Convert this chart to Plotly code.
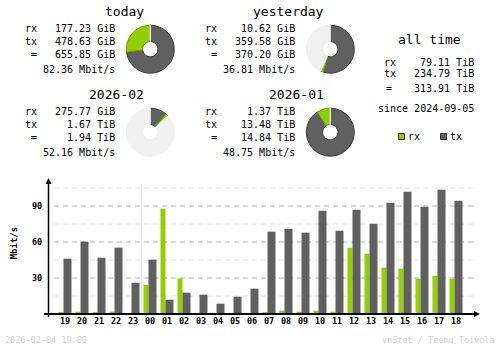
import plotly.graph_objects as go

W, H = 500, 348
MONO = "DejaVu Sans Mono"
RX_C = "#92CF00"
TX_C = "#606060"
RX_EDGE = "#6c9a00"
TX_EDGE = "#3a3a3a"
PIE_BG = "#F0F0F0"

# ---- hourly data (Mbit/s) ----
hours = ["19", "20", "21", "22", "23", "00", "01", "02", "03", "04", "05", "06",
         "07", "08", "09", "10", "11", "12", "13", "14", "15", "16", "17", "18"]
rx_mbit = [1.1, 1.9, 1.1, 1.9, 0, 24.4, 87.8, 29.7, 0, 0, 0, 0,
           1.1, 2.8, 1.9, 2.8, 1.9, 55.3, 50.3, 38.6, 37.8, 29.4, 31.9, 29.4]
tx_mbit = [46.1, 60.3, 46.9, 55.3, 26.1, 45.3, 11.9, 17.8, 16.1, 8.6, 14.4, 21.1,
           68.6, 71.1, 67.8, 86.1, 69.4, 86.9, 75.3, 92.8, 101.9, 89.4, 103.6, 94.4]
y_major = [30, 60, 90]
y_minor = [15, 45, 75, 105]

# ---- summary data ----
day_titles = ["today", "yesterday"]
day_rx_gib = [177.23, 10.62]
day_tx_gib = [478.63, 359.58]
day_total_gib = [655.85, 370.20]
day_rate = [82.36, 36.81]

month_titles = ["2026-02", "2026-01"]
month_rx_tib = [275.77 / 1024, 1.37]
month_tx_tib = [1.67, 13.48]
month_total_tib = [1.94, 14.84]
month_rx_txt = ["275.77 GiB", "1.37 TiB"]
month_tx_txt = ["1.67 TiB", "13.48 TiB"]
month_total_txt = ["1.94 TiB", "14.84 TiB"]
month_rate = [52.16, 48.75]

all_rx, all_tx, all_total = 79.11, 234.79, 313.91
since = "2024-09-05"
stamp = "2026-02-04 19:00"

fig = go.Figure()


def px(x):
    return x / W


def py(y):
    return 1 - y / H


def txt(x, y, s, size=10, xanchor="left", color="#000000", weight="normal", angle=0):
    fig.add_annotation(x=px(x), y=py(y), xref="paper", yref="paper", text=s,
                       showarrow=False, xanchor=xanchor, yanchor="middle",
                       borderpad=0, borderwidth=0, textangle=angle,
                       font=dict(family=MONO, size=size, color=color, weight=weight))


def pie(cx, cy, r, tx, rx, rest):
    fig.add_trace(go.Pie(values=[tx, rx, rest], sort=False, direction="clockwise",
                         rotation=0, hole=0.32, textinfo="none", hoverinfo="none",
                         showlegend=False,
                         marker=dict(colors=[TX_C, RX_C, PIE_BG],
                                     line=dict(color=[TX_EDGE, RX_EDGE, PIE_BG], width=1)),
                         domain=dict(x=[px(cx - r), px(cx + r)], y=[py(cy + r), py(cy - r)])))


def block(ox, oy, title, rx_s, tx_s, tot_s, rate_s):
    txt(144 + ox, 11 + oy, title, size=13, xanchor="right")
    rows = [28.8, 41.2, 54.5, 69.2]
    txt(25 + ox, rows[0] + oy, "rx")
    txt(25 + ox, rows[1] + oy, "tx")
    txt(34 + ox, rows[2] + oy, "=", xanchor="center")
    for s, yy in zip([rx_s, tx_s, tot_s, rate_s], rows):
        txt(115 + ox, yy + oy, s, xanchor="right")


# day blocks
day_max = max(day_total_gib)
for i in range(2):
    ox = 180 * i
    block(ox, 0, day_titles[i], f"{day_rx_gib[i]:.2f} GiB", f"{day_tx_gib[i]:.2f} GiB",
          f"{day_total_gib[i]:.2f} GiB", f"{day_rate[i]:.2f} Mbit/s")
    pie(150.3 + ox, 49.2, 24, day_tx_gib[i], day_rx_gib[i], day_max - day_total_gib[i])

# month blocks
month_max = max(month_total_tib)
for i in range(2):
    ox = 180 * i
    block(ox, 83, month_titles[i], month_rx_txt[i], month_tx_txt[i],
          month_total_txt[i], f"{month_rate[i]:.2f} Mbit/s")
    pie(150.3 + ox, 132.2, 24, month_tx_tib[i], month_rx_tib[i], month_max - month_total_tib[i])

# all time
txt(429, 39.5, "all time", size=13, xanchor="center")
txt(384, 62.2, "rx")
txt(384, 73.8, "tx")
txt(389, 88, "=", xanchor="center")
txt(474, 62.2, f"{all_rx:.2f} TiB", xanchor="right")
txt(474, 73.8, f"{all_tx:.2f} TiB", xanchor="right")
txt(474, 88, f"{all_total:.2f} TiB", xanchor="right")
txt(474, 108.2, f"since {since}", xanchor="right")

shapes = []
# legend squares
shapes.append(dict(type="rect", xref="paper", yref="paper", x0=px(398.5), x1=px(404.5),
                   y0=py(139.5), y1=py(133.5), fillcolor=RX_C, line=dict(color="#303030", width=1)))
shapes.append(dict(type="rect", xref="paper", yref="paper", x0=px(440.5), x1=px(446.5),
                   y0=py(139.5), y1=py(133.5), fillcolor=TX_C, line=dict(color="#303030", width=1)))
txt(408, 136.3, "rx")
txt(450, 136.3, "tx")

# ---- bar chart ----
slot = 17.0
x_left, x_right = 48, 478
y_base, y_top = 314, 180
xr = [(x_left - 65) / slot, (x_right - 65) / slot]
yr = [0, (y_base - y_top) / 1.2]

xs = list(range(len(hours)))
fig.add_trace(go.Bar(x=xs, y=rx_mbit, marker=dict(color=RX_C, line=dict(width=0)),
                     width=5 / slot, offset=-6.5 / slot, showlegend=False, hoverinfo="none"))
fig.add_trace(go.Bar(x=xs, y=tx_mbit, marker=dict(color=TX_C, line=dict(width=0)),
                     width=8 / slot, offset=-1.5 / slot, showlegend=False, hoverinfo="none"))

for v in y_minor:
    shapes.append(dict(type="line", xref="paper", yref="y", x0=px(54), x1=px(473), y0=v, y1=v,
                       line=dict(color="#E0E0E0", width=1, dash="5px,4px"), layer="below"))
for v in y_major:
    shapes.append(dict(type="line", xref="paper", yref="y", x0=px(54), x1=px(473), y0=v, y1=v,
                       line=dict(color="#B0B0B0", width=1, dash="5px,4px"), layer="below"))
    fig.add_annotation(x=px(42), y=v, xref="paper", yref="y", text=str(v), showarrow=False,
                       xanchor="right", yanchor="middle", borderpad=0, borderwidth=0,
                       font=dict(family=MONO, size=8.5, color="#000000", weight="bold"))

# day boundary line (between 23 and 00)
shapes.append(dict(type="line", xref="x", yref="paper", x0=4.5, x1=4.5, y0=py(314), y1=py(184),
                   line=dict(color="#E0E0E0", width=1), layer="below"))

# axes
shapes.append(dict(type="line", xref="paper", yref="paper", x0=px(44), x1=px(475), y0=py(314), y1=py(314),
                   line=dict(color="#000000", width=2)))
shapes.append(dict(type="line", xref="paper", yref="paper", x0=px(48.5), x1=px(48.5), y0=py(317), y1=py(182),
                   line=dict(color="#000000", width=1.5)))
shapes.append(dict(type="path", xref="paper", yref="paper",
                   path=f"M {px(45.5)} {py(184)} L {px(51.5)} {py(184)} L {px(48.5)} {py(178)} Z",
                   fillcolor="#000000", line=dict(color="#000000", width=0)))
shapes.append(dict(type="path", xref="paper", yref="paper",
                   path=f"M {px(474)} {py(311)} L {px(474)} {py(317)} L {px(480)} {py(314)} Z",
                   fillcolor="#000000", line=dict(color="#000000", width=0)))

txt(14.3, 243, "Mbit/s", size=9, xanchor="center", weight="bold", angle=-90)

# footer
txt(5, 340.3, stamp, size=8.5, color="#D4D4D4")
txt(495, 340.3, "vnStat / Teemu Toivola", size=8.5, xanchor="right", color="#D4D4D4")

fig.update_layout(
    width=W, height=H, margin=dict(l=0, r=0, t=0, b=0),
    paper_bgcolor="#FFFFFF", plot_bgcolor="rgba(0,0,0,0)",
    barmode="overlay", showlegend=False, shapes=shapes,
    xaxis=dict(domain=[px(x_left), px(x_right)], range=xr, showgrid=False, zeroline=False,
               showline=False, ticks="", tickvals=xs, ticktext=hours,
               tickfont=dict(family=MONO, size=8.5, color="#000000", weight="bold"),
               fixedrange=True),
    yaxis=dict(domain=[py(y_base), py(y_top)], range=yr, showgrid=False, zeroline=False,
               showline=False, showticklabels=False, ticks="", fixedrange=True),
)

fig.write_html("out.html")
